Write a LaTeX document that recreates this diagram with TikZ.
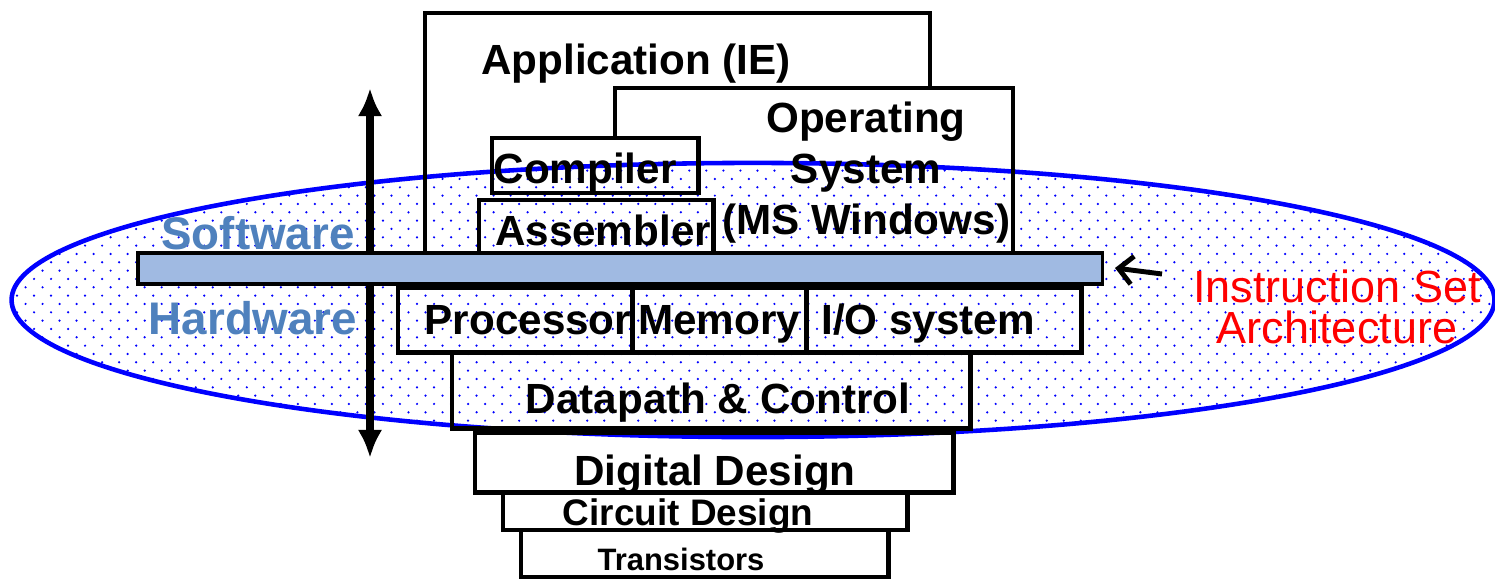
\documentclass[tikz,border=0pt]{standalone}
\usepackage{fontspec}
\setmainfont{Liberation Sans}
\definecolor{swblue}{RGB}{79,129,189}
\definecolor{isared}{RGB}{255,0,0}
\definecolor{ringblue}{RGB}{0,0,255}
\definecolor{barblue}{RGB}{160,186,226}
\usetikzlibrary{arrows.meta,positioning,patterns}
\pgfdeclarepatternformonly{ringdots}{\pgfqpoint{-0.5pt}{-0.5pt}}{\pgfqpoint{2.9pt}{2.9pt}}{\pgfqpoint{4.84pt}{4.74pt}}{%
  \pgfpathcircle{\pgfqpoint{0pt}{0pt}}{0.35pt}%
  \pgfpathcircle{\pgfqpoint{2.42pt}{2.37pt}}{0.35pt}%
  \pgfusepath{fill}}

\begin{document}
\begin{tikzpicture}[x=0.01cm,y=-0.01cm,
    frame/.style={line width=1.4pt},
    layerbox/.style={draw,line width=1.4pt,inner sep=0pt,outer sep=0pt,anchor=north west},
    boxtext/.style={inner sep=0pt,anchor=base,font=\fontsize{12}{14.5}\selectfont\bfseries},
    sidelabel/.style={inner sep=0pt,anchor=base,text=swblue,font=\fontsize{13}{15}\selectfont\bfseries}]
  \useasboundingbox (0,0) rectangle (1495,579);

  % the ISA ring
  \path[pattern=ringdots,pattern color=ringblue] (753,300) ellipse [x radius=7.41cm,y radius=1.37cm];
  \draw[ringblue,line width=1.3pt] (753,300) ellipse [x radius=7.41cm,y radius=1.37cm];

  % software layers
  \draw[frame] (425,253) |- (930,13) -- (930,88);
  \node[boxtext] (app) at (636,75) {Application (IE)};
  \draw[frame] (615,138) |- (1013,88) -- (1013,253);
  \node[boxtext,anchor=center,align=center] (os) at (866,173) {Operating\\System\\(MS Windows)};
  \node[layerbox,minimum width=2.06cm,minimum height=0.55cm] (compiler) at (492,138) {};
  \node[boxtext] (compilertxt) at (585,183) {Compiler};
  \node[layerbox,minimum width=2.34cm,minimum height=0.53cm] (assembler) at (479,200) {};
  \node[boxtext] (assemblertxt) at (603,245) {Assembler};

  % software / hardware arrow
  \coordinate (swtop) at (370,88);
  \coordinate (hwbottom) at (370,458);
  \draw[{Latex[length=8pt,width=7pt]}-{Latex[length=8pt,width=7pt]},line width=2pt] (swtop) -- (hwbottom);

  % instruction set bar
  \node[draw,line width=1pt,fill=barblue,inner sep=0pt,outer sep=0pt,anchor=north west,
        minimum width=9.64cm,minimum height=0.31cm] (isabar) at (138,253) {};

  % hardware layers
  \node[layerbox,minimum width=2.34cm,minimum height=0.64cm] (processor) at (398,288) {};
  \node[layerbox,minimum width=1.74cm,minimum height=0.64cm,right=0pt of processor.north east,anchor=north west] (memory) {};
  \node[layerbox,minimum width=2.75cm,minimum height=0.64cm,right=0pt of memory.north east,anchor=north west] (iosys) {};
  \node[boxtext] (processortxt) at (528,334) {Processor};
  \node[boxtext] (memorytxt) at (719,334) {Memory};
  \node[boxtext] (iosystxt) at (928,334) {I/O system};
  \node[layerbox,minimum width=5.18cm,minimum height=0.76cm] (datapath) at (452,352) {};
  \node[boxtext] (datapathtxt) at (718,413) {Datapath \& Control};
  \node[layerbox,minimum width=4.78cm,minimum height=0.59cm] (digital) at (475,433) {};
  \node[boxtext] (digitaltxt) at (715,485) {Digital Design};
  \node[layerbox,minimum width=4.04cm,minimum height=0.38cm] (circuit) at (503,492) {};
  \node[boxtext,font=\fontsize{10.5}{12}\selectfont\bfseries] (circuittxt) at (688,525) {Circuit Design};
  \node[layerbox,minimum width=3.67cm,minimum height=0.47cm] (transistors) at (521,530) {};
  \node[boxtext,font=\fontsize{8.8}{11}\selectfont\bfseries] (transistorstxt) at (681,570) {Transistors};

  % labels
  \node[sidelabel] (software) at (258,249) {Software};
  \node[sidelabel] (hardware) at (253,334) {Hardware};
  \node[inner sep=0pt,text=isared,align=center,font=\fontsize{12.8}{11.7}\selectfont] (isa) at (1337,307) {Instruction Set\\Architecture};
  \coordinate (isatail) at (1162,274);
  \coordinate (isatip) at (1115,268);
  \draw[-{Straight Barb[length=4pt,width=8pt]},line width=1.4pt] (isatail) -- (isatip);
\end{tikzpicture}
\end{document}
